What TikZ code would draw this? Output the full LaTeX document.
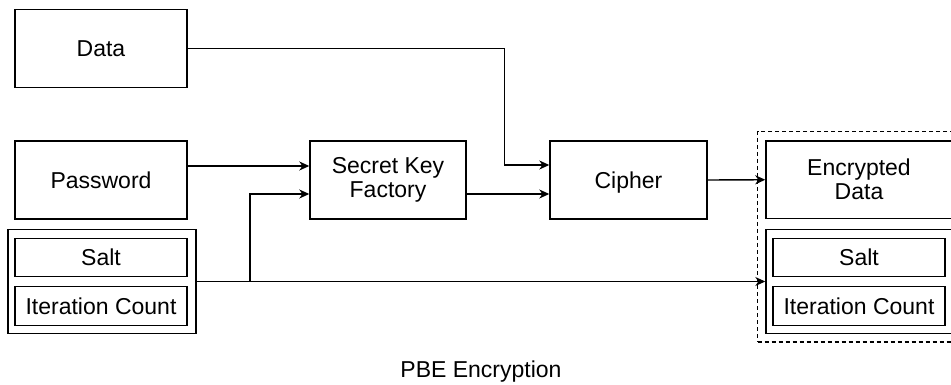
\documentclass[tikz,border=0pt]{standalone}
\usepackage{fontspec}
\setmainfont{Liberation Sans}
\usetikzlibrary{arrows.meta}

\tikzset{
  txt/.style={font=\fontsize{23}{24}\selectfont},
  box/.style={draw, line width=1.4pt, inner sep=0pt, align=center, txt,
              minimum width=172pt, minimum height=78pt},
  flat/.style={box, text depth=0pt},
  small/.style={flat, minimum height=38.5pt},
  group/.style={draw, line width=1.4pt, inner sep=0pt,
                minimum width=188pt, minimum height=104pt},
  bundle/.style={draw, line width=1.2pt, dash pattern=on 4pt off 3pt, inner sep=0pt},
  link/.style={line width=1.4pt},
  arr/.style={link, -{Stealth[length=10pt, width=9pt, inset=3pt]}}
}

\begin{document}
\begin{tikzpicture}[x=1pt, y=-1pt]
  \useasboundingbox (0,0) rectangle (951,385);
  \clip (0,0) rectangle (951,385);

  % inputs on the left
  \node[flat] (data) at (101,48.5) {Data};
  \node[flat] (pwd)  at (101,180)  {Password};
  \node[group] (lgroup) at (102,281.5) {};
  \node[small] (lsalt) at (101,257.5) {Salt};
  \node[small] (liter) at (101,306)   {Iteration Count};

  % processing steps
  \node[box, minimum width=156pt] (skf) at (388,180) {Secret Key\\Factory};
  \node[flat, minimum width=157pt] (cipher) at (628.5,180) {Cipher};

  % output bundle
  \node[bundle, minimum width=203pt, minimum height=210.5pt] (out) at (859,236.75) {};
  \node[box, minimum width=186pt, minimum height=77.5pt] (enc) at (859,179.75) {Encrypted\\Data};
  \node[group, minimum width=186pt] (rgroup) at (859,281.5) {};
  \node[small] (rsalt) at (859,257.5) {Salt};
  \node[small] (riter) at (859,306)   {Iteration Count};

  % inputs of the two steps
  \coordinate (skfin1) at ([yshift=14pt]skf.west);
  \coordinate (skfin2) at ([yshift=-14pt]skf.west);
  \coordinate (cin1)   at ([yshift=15pt]cipher.west);
  \coordinate (cin2)   at ([yshift=-14pt]cipher.west);
  \coordinate (djog)   at (504.3,48.5);
  \coordinate (branch) at (250,281.5);

  % connectors
  \draw[arr] (data.east) -- (djog) |- (cin1);
  \draw[arr] (pwd.east |- skfin1) -- (skfin1);
  \draw[arr] (lgroup.east) -- (rgroup.west);
  \draw[arr] (branch) |- (skfin2);
  \draw[arr] (skf.east |- cin2) -- (cin2);
  \draw[arr] (cipher.east) -- (enc.west);

  % caption
  \node[txt, anchor=base] (title) at (481,377.5) {PBE Encryption};
\end{tikzpicture}
\end{document}
